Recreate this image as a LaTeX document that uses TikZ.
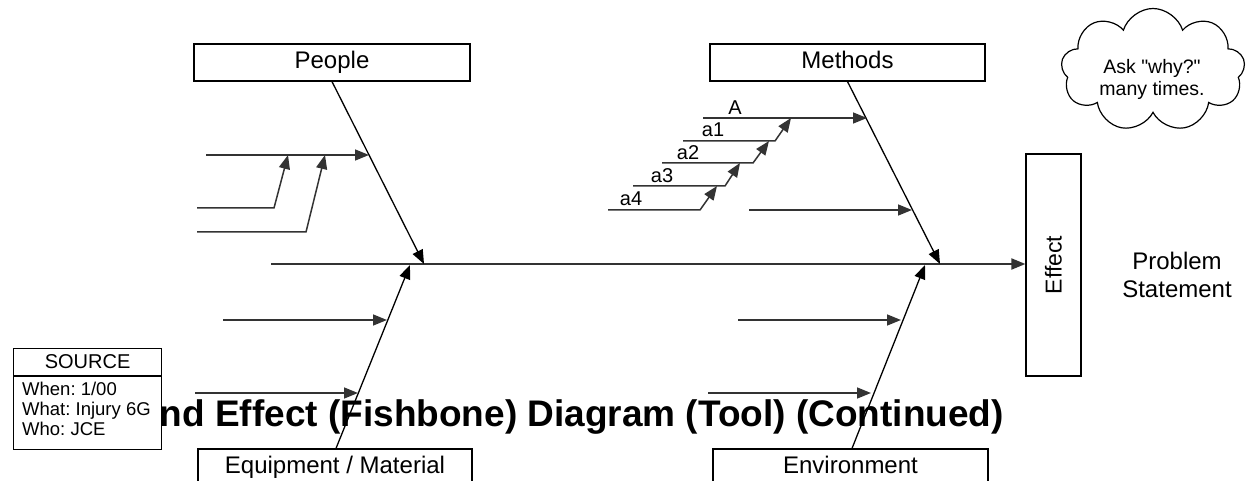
\documentclass[tikz,border=0pt]{standalone}
\usepackage{fontspec}
\setmainfont{Liberation Sans}
\usetikzlibrary{arrows.meta,shapes.symbols}
% plain font (no TeX mapping) so that " stays a straight quote
\font\cloudfnt="Liberation Sans" at 19.5pt

\tikzset{
  catbox/.style={draw, line width=1.2pt, fill=white, inner sep=0pt,
    minimum height=37pt, text height=17.5pt, text depth=5pt,
    font=\fontsize{24}{28}\selectfont},
  tip/.style={-{Triangle[length=14pt,width=11pt]}},
  bone/.style={tip, line width=1.3pt, black},
  spine/.style={tip, line width=1.9pt, black!80},
  rib/.style={tip, line width=1.5pt, black!80},
  riblabel/.style={anchor=base, inner sep=0pt, font=\fontsize{20}{24}\selectfont},
}

\begin{document}
\frenchspacing
\begin{tikzpicture}[x=1pt,y=-1pt]
\useasboundingbox (0,0) rectangle (1248,481);
\clip (0,0) rectangle (1248,481);
\fill[white] (0,0) rectangle (1248,481);

% title
\node[anchor=base east, inner sep=0pt, font=\bfseries\fontsize{37}{44}\selectfont]
  (title) at (1004,426) {Cause and Effect (Fishbone) Diagram (Tool) (Continued)};

% category boxes
\node[catbox, minimum width=276pt] (people)  at (332,62.5)  {People};
\node[catbox, minimum width=275pt] (methods) at (847.5,62.5) {Methods};
\node[catbox, minimum width=274pt] (equip)   at (335,467.5) {Equipment / Material};
\node[catbox, minimum width=275pt] (envir)   at (850.5,467.5) {Environment};

% effect box and problem statement
\node[draw, line width=1.2pt, minimum width=55pt, minimum height=222pt, inner sep=0pt]
  (effect) at (1053.5,265) {};
\node[rotate=90, inner sep=0pt, font=\fontsize{23}{28}\selectfont] (effectlabel) at (effect.center) {Effect};
\node[align=center, inner sep=0pt, font=\fontsize{24}{28}\selectfont]
  (problem) at (1177,275) {Problem\\Statement};

% spine
\coordinate (tail) at (271,264);
\draw[spine] (tail) -- (effect.west |- tail);

% main bones
\coordinate (pTip) at (424,264);
\coordinate (mTip) at (940,264);
\coordinate (eTip) at (410,265);
\coordinate (nTip) at (925,265);
\draw[bone] (people.south) -- (pTip);
\draw[bone] (methods.south) -- (mTip);
\draw[bone] ([xshift=1pt]equip.north) -- (eTip);
\draw[bone] ([xshift=1.5pt]envir.north) -- (nTip);

% people ribs
\coordinate (p1s) at (206,155); \coordinate (p1e) at (369,155);
\coordinate (p2s) at (197,208); \coordinate (p2b) at (274,208); \coordinate (p2e) at (288,155);
\coordinate (p3s) at (197,232); \coordinate (p3b) at (306,232); \coordinate (p3e) at (325,155);
\draw[rib] (p1s) -- (p1e);
\draw[rib] (p2s) -- (p2b) -- (p2e);
\draw[rib] (p3s) -- (p3b) -- (p3e);

% methods ribs
\coordinate (A0) at (703,118); \coordinate (A1) at (867,118);
\coordinate (b1s) at (683,141); \coordinate (b1b) at (775,141); \coordinate (b1e) at (791,118);
\coordinate (b2s) at (662,163); \coordinate (b2b) at (753,163); \coordinate (b2e) at (769,141);
\coordinate (b3s) at (633,186); \coordinate (b3b) at (725,186); \coordinate (b3e) at (740,163);
\coordinate (b4s) at (608,210); \coordinate (b4b) at (700,210); \coordinate (b4e) at (717,186);
\coordinate (m2s) at (749,210); \coordinate (m2e) at (912,210);
\draw[rib] (A0) -- (A1);
\draw[rib] (b1s) -- (b1b) -- (b1e);
\draw[rib] (b2s) -- (b2b) -- (b2e);
\draw[rib] (b3s) -- (b3b) -- (b3e);
\draw[rib] (b4s) -- (b4b) -- (b4e);
\draw[rib] (m2s) -- (m2e);
\node[riblabel] (lA)  at (735,115) {A};
\node[riblabel] (la1) at (713,137) {a1};
\node[riblabel] (la2) at (688,160) {a2};
\node[riblabel] (la3) at (662,183) {a3};
\node[riblabel] (la4) at (631,206) {a4};

% equipment ribs
\coordinate (e1s) at (223,320); \coordinate (e1e) at (387,320);
\coordinate (e2s) at (195,393); \coordinate (e2e) at (358,393);
\draw[rib] (e1s) -- (e1e);
\draw[rib] (e2s) -- (e2e);

% environment ribs
\coordinate (n1s) at (738,320); \coordinate (n1e) at (901,320);
\coordinate (n2s) at (708,393); \coordinate (n2e) at (871,393);
\draw[rib] (n1s) -- (n1e);
\draw[rib] (n2s) -- (n2e);

% source box
\node[draw, line width=1.2pt, fill=white, anchor=north west, minimum width=148pt,
  minimum height=27pt, inner sep=0pt, font=\fontsize{20}{24}\selectfont]
  (source) at (13,348) {SOURCE};
\node[draw, line width=1.2pt, fill=white, anchor=north west, minimum width=148pt,
  minimum height=73pt, inner sep=0pt] (sourcebody) at (source.south west) {};
\node[anchor=north west, align=left, inner sep=0pt, font=\fontsize{18.5}{20}\selectfont]
  (sourcetext) at (22,381.5) {When: 1/00\\What: Injury 6G\\Who: JCE};

% reminder cloud
\node[cloud, draw, line width=1.2pt, cloud puffs=9, cloud puff arc=145,
  cloud ignores aspect, minimum width=184pt, minimum height=123pt, inner sep=0pt]
  (cloud) at (1153,70) {};
\node[align=center, inner sep=0pt, font={\fontsize{19.5}{22}\selectfont\cloudfnt}]
  (cloudtext) at (1152,79) {Ask "why?"\\many times.};
\end{tikzpicture}
\end{document}
